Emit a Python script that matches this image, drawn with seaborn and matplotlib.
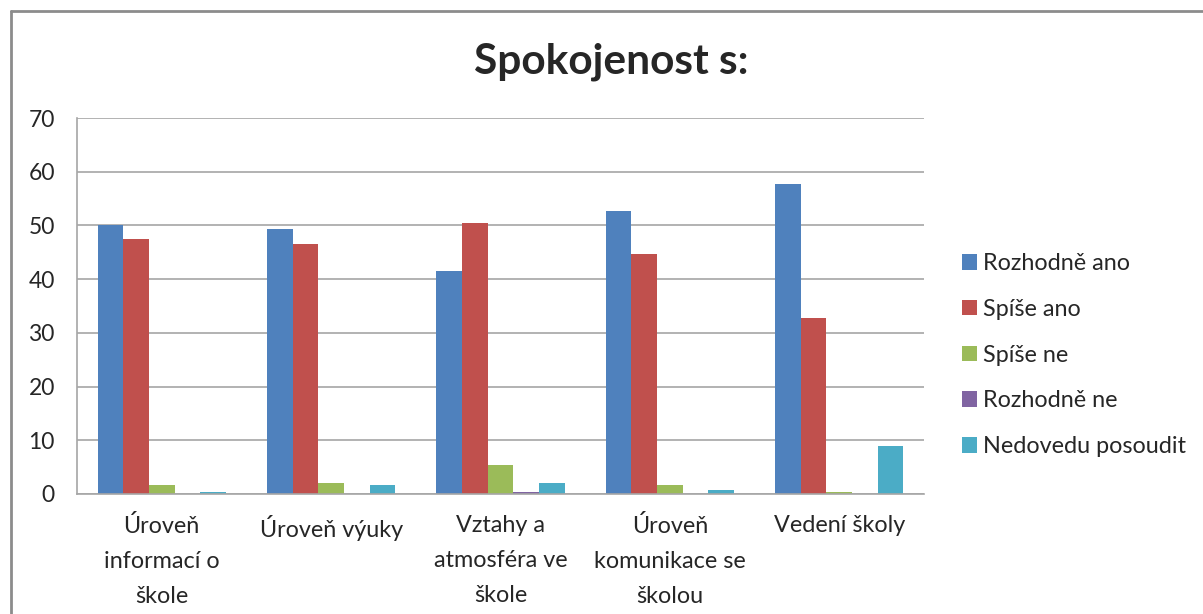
#!/usr/bin/env python3
"""Grouped bar chart: Spokojenost s: (satisfaction survey)"""
import pandas as pd
import seaborn as sns
import matplotlib.pyplot as plt
from matplotlib.lines import Line2D
from matplotlib.patches import Patch

categories = [
    "Úroveň\ninformací o\nškole",
    "Úroveň výuky",
    "Vztahy a\natmosféra ve\nškole",
    "Úroveň\nkomunikace se\nškolou",
    "Vedení školy",
]
responses = ["Rozhodně ano", "Spíše ano", "Spíše ne", "Rozhodně ne", "Nedovedu posoudit"]

rozhodne_ano = [50.0, 49.4, 41.5, 52.7, 57.8]
spise_ano = [47.4, 46.5, 50.4, 44.6, 32.8]
spise_ne = [1.7, 2.1, 5.4, 1.6, 0.3]
rozhodne_ne = [0.0, 0.0, 0.3, 0.0, 0.0]
nedovedu = [0.4, 1.6, 2.1, 0.7, 9.0]

colors = ["#4F81BD", "#C0504D", "#9BBB59", "#8064A2", "#4BACC6"]

series = [rozhodne_ano, spise_ano, spise_ne, rozhodne_ne, nedovedu]
rows = []
for resp, vals in zip(responses, series):
    for cat, v in zip(categories, vals):
        rows.append({"kategorie": cat, "odpoved": resp, "hodnota": v})
df = pd.DataFrame(rows)

sns.set_style("white")
plt.rcParams["font.family"] = ["Lato", "DejaVu Sans"]

fig = plt.figure(figsize=(12.03, 6.14), dpi=100)
ax = fig.add_axes([77 / 1203, 1 - 494 / 614, (924 - 77) / 1203, (494 - 118) / 614])

sns.barplot(data=df, x="kategorie", y="hodnota", hue="odpoved",
            palette=colors, saturation=1, width=0.756, linewidth=0,
            order=categories, hue_order=responses, ax=ax, legend=False)

grid_c = "#a6a6a6"
ax.set_ylim(0, 70)
ax.set_yticks(range(0, 71, 10))
ax.set_xlim(-0.5, len(categories) - 0.5)
ax.yaxis.grid(True, color=grid_c, linewidth=1.2)
ax.set_axisbelow(True)

# group boundary ticks as major, labels on minor ticks at centers
ax.set_xticks([i - 0.5 for i in range(len(categories) + 1)])
ax.set_xticklabels([])
ax.set_xticks(range(len(categories)), minor=True)
ax.set_xticklabels(categories, minor=True, fontsize=16.8, linespacing=1.83)
ax.tick_params(axis="x", which="major", length=7, width=1.2, color=grid_c, direction="out")
ax.tick_params(axis="x", which="minor", length=0, pad=15)
ax.tick_params(axis="y", length=6, width=1.2, color=grid_c, direction="out",
               labelsize=16.5, pad=10)

for side in ["top", "right"]:
    ax.spines[side].set_visible(False)
for side in ["left", "bottom"]:
    ax.spines[side].set_color(grid_c)
    ax.spines[side].set_linewidth(1.2)

ax.set_xlabel("")
ax.set_ylabel("")

fig.text(611 / 1203, 1 - 62 / 614, "Spokojenost s:", ha="center", va="center",
         fontsize=30.5, fontweight="bold")

handles = [Patch(facecolor=c, edgecolor="none") for c in colors]
ax.legend(handles, responses, loc="center left", frameon=False, fontsize=16.8,
          bbox_to_anchor=(941 / 1203, 1 - 355 / 614), bbox_transform=fig.transFigure,
          handlelength=0.65, handleheight=0.65, handletextpad=0.25, labelspacing=1.06)

# chart frame (left and top edges visible)
fig.add_artist(Line2D([11 / 1203, 11 / 1203], [0, 1 - 11 / 614],
                      transform=fig.transFigure, color="#8c8c8c", linewidth=2))
fig.add_artist(Line2D([11 / 1203, 1], [1 - 11 / 614, 1 - 11 / 614],
                      transform=fig.transFigure, color="#8c8c8c", linewidth=2))

fig.savefig("out.png", dpi=100, facecolor="white")
